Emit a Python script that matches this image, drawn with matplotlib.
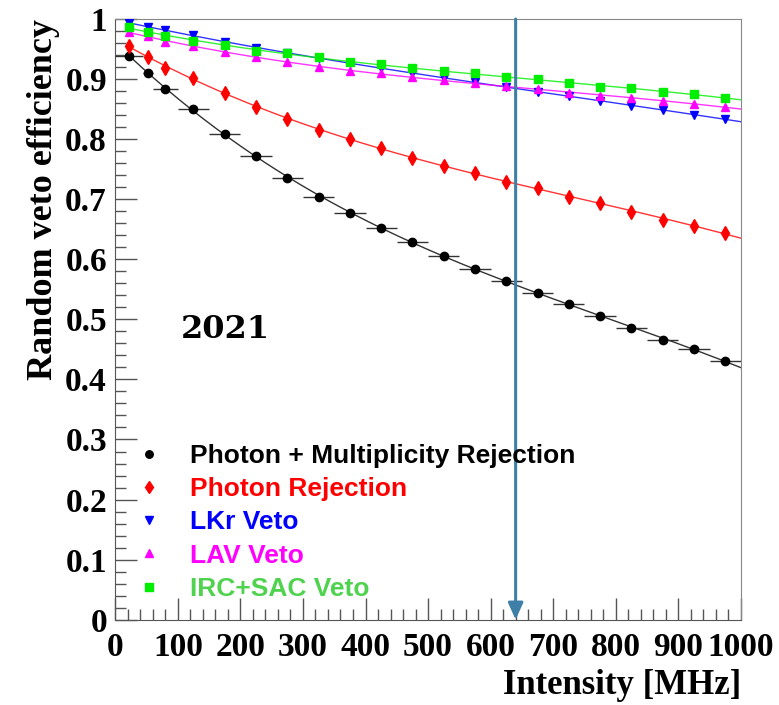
import numpy as np
import matplotlib
matplotlib.use("Agg")
import matplotlib.pyplot as plt
from matplotlib.ticker import MultipleLocator

# bin centres and half widths [MHz]
intensity = [22.5, 52.5, 80, 125, 175, 225, 275, 325, 375, 425, 475,
             525, 575, 625, 675, 725, 775, 825, 875, 925, 975]
half_width = [22.5, 7.5, 20, 25, 25, 25, 25, 25, 25, 25, 25,
              25, 25, 25, 25, 25, 25, 25, 25, 25, 25]

photon_mult = [0.938, 0.910, 0.883, 0.850, 0.809, 0.772, 0.735, 0.704, 0.677, 0.652, 0.629,
               0.606, 0.584, 0.564, 0.544, 0.526, 0.506, 0.486, 0.466, 0.451, 0.431]
photon = [0.955, 0.937, 0.918, 0.902, 0.877, 0.854, 0.834, 0.815, 0.800, 0.785, 0.769,
          0.756, 0.744, 0.729, 0.719, 0.704, 0.694, 0.679, 0.666, 0.656, 0.644]
lkr = [0.993, 0.987, 0.982, 0.973, 0.962, 0.952, 0.943, 0.935, 0.927, 0.918, 0.910,
       0.902, 0.895, 0.887, 0.879, 0.872, 0.864, 0.855, 0.849, 0.840, 0.834]
lav = [0.978, 0.972, 0.962, 0.955, 0.945, 0.937, 0.928, 0.920, 0.913, 0.910, 0.903,
       0.899, 0.893, 0.889, 0.884, 0.877, 0.872, 0.868, 0.864, 0.859, 0.854]
irc_sac = [0.987, 0.978, 0.972, 0.963, 0.957, 0.947, 0.943, 0.937, 0.928, 0.925, 0.918,
           0.913, 0.910, 0.903, 0.900, 0.894, 0.887, 0.885, 0.879, 0.875, 0.869]

labels = ["Photon + Multiplicity Rejection", "Photon Rejection", "LKr Veto",
          "LAV Veto", "IRC+SAC Veto"]
colors = ["#000000", "#ff0000", "#0000ff", "#ff00ff", "#00ee00"]
text_colors = ["#000000", "#ff0000", "#0000ff", "#ff00ff", "#4fd34f"]
markers = ["o", "d", "v", "^", "s"]

arrow_x = 640
year_label = "2021"

fig = plt.figure(figsize=(7.79, 7.05), dpi=100)
ax = fig.add_axes([0.148, 0.121, 0.803, 0.852])

x = np.array(intensity)
xs = np.linspace(x[0], 1000, 200)
series = [photon_mult, photon, lkr, lav, irc_sac]
for i, y in enumerate(series):
    y = np.array(y)
    # smooth fit curve like the original
    coef = np.polyfit(x, y, 3)
    ax.plot(xs, np.polyval(coef, xs), color=colors[i], lw=1.0, alpha=0.8, zorder=2)
    if i == 0:
        ax.errorbar(x, y, xerr=half_width, fmt="none", ecolor="#333333", elinewidth=1.0, zorder=3)
    ms = 6 if markers[i] != "d" else 7
    ax.plot(x, y, ls="none", marker=markers[i], color=colors[i], ms=ms, zorder=4,
            label=labels[i])

ax.set_xlim(0, 1000)
ax.set_ylim(0, 1)

ax.xaxis.set_major_locator(MultipleLocator(100))
ax.xaxis.set_minor_locator(MultipleLocator(20))
ax.yaxis.set_major_locator(MultipleLocator(0.1))
ax.yaxis.set_minor_locator(MultipleLocator(0.02))
ax.tick_params(which="both", direction="in", top=False, right=False, color="#555555")
ax.tick_params(which="major", length=16, width=1)
ax.tick_params(which="minor", length=8, width=1)
ax.set_yticks(np.arange(0, 1.01, 0.1))
ax.set_yticklabels(["0", "0.1", "0.2", "0.3", "0.4", "0.5", "0.6", "0.7", "0.8", "0.9", "1"])

for lab in ax.get_xticklabels() + ax.get_yticklabels():
    lab.set_fontfamily("Liberation Serif")
    lab.set_fontweight("bold")
    lab.set_fontsize(24)
ax.tick_params(axis="x", pad=9)
ax.tick_params(axis="y", pad=6)

for s in ["top", "right"]:
    ax.spines[s].set_color("#888888")
for s in ["left", "bottom"]:
    ax.spines[s].set_color("#555555")

ax.set_ylabel("Random veto efficiency", fontfamily="Liberation Serif", fontweight="bold",
              fontsize=26, loc="top", labelpad=4)
ax.set_xlabel("Intensity [MHz]", fontfamily="Liberation Serif", fontweight="bold",
              fontsize=25, loc="right", labelpad=4)

ax.text(176, 0.483, year_label, fontfamily="DejaVu Serif", fontweight="bold",
        fontsize=23, ha="center", va="center")

ax.annotate("", xy=(arrow_x, 0.0), xytext=(arrow_x, 1.0),
            arrowprops=dict(arrowstyle="-|>,head_width=0.45,head_length=1.0",
                            color="#3d7fa6", lw=2.2, shrinkA=0, shrinkB=0), zorder=5)

leg = ax.legend(loc="lower left", bbox_to_anchor=(-0.015, -0.008), frameon=False,
                prop={"family": "Liberation Sans", "weight": "bold", "size": 19},
                handletextpad=0.8, labelspacing=0.35, markerscale=0.9, handlelength=1.5)
for t, c in zip(leg.get_texts(), text_colors):
    t.set_color(c)

fig.savefig("out.png", dpi=100)
